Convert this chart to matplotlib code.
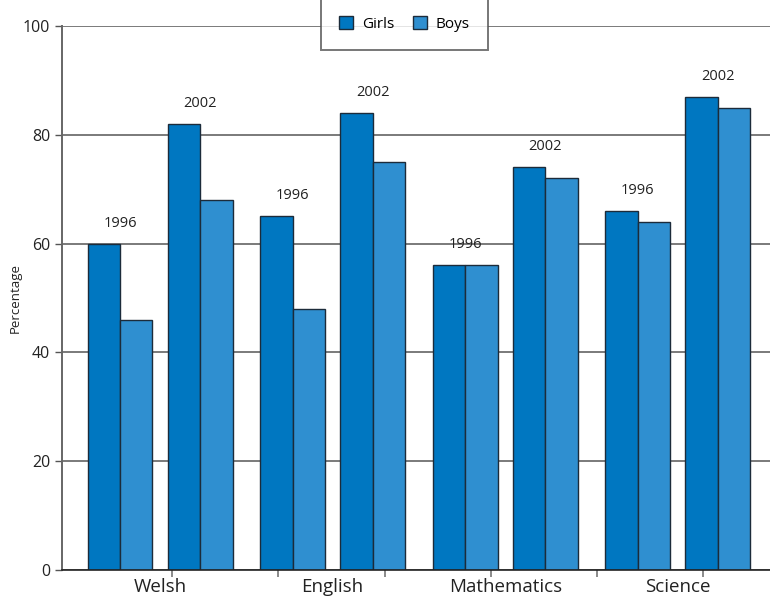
import matplotlib.pyplot as plt
import numpy as np

plt.rcParams['font.family'] = ['Open Sans', 'DejaVu Sans']

subjects = ['Welsh', 'English', 'Mathematics', 'Science']
years = ['1996', '2002']
girls_1996 = [60, 65, 56, 66]
boys_1996 = [46, 48, 56, 64]
girls_2002 = [82, 84, 74, 87]
boys_2002 = [68, 75, 72, 85]

girl_col = '#0077c1'
boy_col = '#2f8fd0'
edge = '#1c2b3a'

fig = plt.figure(figsize=(7.7, 5.96), dpi=100)
ax = fig.add_axes([62 / 770, 26 / 596, 708 / 770, 544 / 596])

x = np.arange(len(subjects))
w = 0.188
off = 0.232

for yr, g, b, sh in [(years[0], girls_1996, boys_1996, -off),
                     (years[1], girls_2002, boys_2002, off)]:
    ax.bar(x + sh - w / 2, g, w, color=girl_col, edgecolor=edge, lw=1,
           zorder=3, label='Girls' if sh < 0 else None)
    ax.bar(x + sh + w / 2, b, w, color=boy_col, edgecolor=edge, lw=1,
           zorder=3, label='Boys' if sh < 0 else None)
    for i in range(len(subjects)):
        ax.text(x[i] + sh, max(g[i], b[i]) + 2.4, yr, ha='center',
                va='bottom', fontsize=10.5, color='#222222')

ax.set_ylim(0, 100)
ax.set_yticks(np.arange(0, 101, 20))
ax.set_xlim(-0.568, 3.534)
# evenly spaced category-axis ticks, independent of the bar groups
ax.set_xticks(-0.545 + 0.6153 * np.arange(1, 7))
ax.set_xticklabels([])
ax.tick_params(axis='y', labelsize=11.5, length=5, width=1, color='#555555',
               colors='#222222')
ax.tick_params(axis='x', length=5, width=1.2, color='#777777')

for i, s in enumerate(subjects):
    ax.text(x[i], -1.4, s, ha='center', va='top', fontsize=13.5,
            color='#222222', clip_on=False)

ax.yaxis.grid(True, color='#7a7a7a', lw=1.4, zorder=0)
ax.spines['top'].set_visible(False)
ax.spines['right'].set_visible(False)
ax.spines['left'].set_color('#666666')
ax.spines['left'].set_linewidth(1.4)
ax.spines['bottom'].set_color('#222222')
ax.spines['bottom'].set_linewidth(1.2)
ax.spines['left'].set_zorder(4)
ax.spines['bottom'].set_zorder(4)

ax.set_ylabel('Percentage', fontsize=9.5, color='#222222', labelpad=1)

leg = fig.legend(loc='center', bbox_to_anchor=(404.5 / 770, 1 - 24 / 596),
                 ncol=2, fontsize=11, frameon=True, fancybox=False,
                 handlelength=0.9, handleheight=0.9, handletextpad=0.6,
                 columnspacing=1.2, borderpad=1.2)
leg.get_frame().set_edgecolor('#555555')
leg.get_frame().set_linewidth(1.4)

fig.savefig('out.png', dpi=100)
